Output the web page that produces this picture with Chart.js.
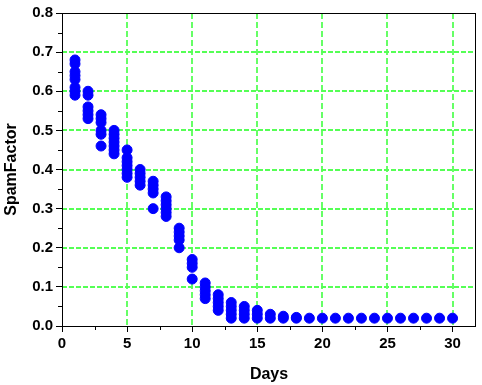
<!DOCTYPE html>
<html>
<head>
<meta charset="utf-8">
<script src="https://cdn.jsdelivr.net/npm/chart.js@4"></script>
<style>
  html, body { margin: 0; padding: 0; background: #fff; }
  #wrap { width: 482px; height: 385px; }
</style>
</head>
<body>
<div id="wrap"><canvas id="c" width="482" height="385"></canvas></div>
<script>
// SpamFactor po dnevih — več meritev na dan

const days = [1, 2, 3, 4, 5, 6, 7, 8, 9, 10, 11, 12, 13, 14, 15,
  16, 17, 18, 19, 20, 21, 22, 23, 24, 25, 26, 27, 28, 29, 30];

const spamFactor = [
  [0.68, 0.67, 0.65, 0.64, 0.63, 0.61, 0.60, 0.59],
  [0.60, 0.59, 0.56, 0.55, 0.54, 0.53],
  [0.54, 0.53, 0.52, 0.50, 0.49, 0.46],
  [0.50, 0.49, 0.48, 0.47, 0.46, 0.45, 0.44],
  [0.45, 0.43, 0.42, 0.41, 0.40, 0.39, 0.38],
  [0.40, 0.39, 0.38, 0.37, 0.36],
  [0.37, 0.36, 0.35, 0.34, 0.30],
  [0.33, 0.32, 0.31, 0.30, 0.29, 0.28],
  [0.25, 0.24, 0.23, 0.22, 0.20],
  [0.17, 0.16, 0.15, 0.12],
  [0.11, 0.10, 0.09, 0.08, 0.07],
  [0.08, 0.07, 0.06, 0.05, 0.04],
  [0.06, 0.05, 0.04, 0.03, 0.02],
  [0.05, 0.04, 0.03, 0.02],
  [0.04, 0.03, 0.02],
  [0.03, 0.02],
  [0.025, 0.02],
  [0.022, 0.02],
  [0.02], [0.02], [0.02], [0.02], [0.02], [0.02],
  [0.02], [0.02], [0.02], [0.02], [0.02], [0.02],
];

const xTicks = [0, 5, 10, 15, 20, 25, 30];
const yTicks = [0, 0.1, 0.2, 0.3, 0.4, 0.5, 0.6, 0.7, 0.8];
const xMinor = [2.5, 7.5, 12.5, 17.5, 22.5, 27.5];
const yMinor = [0.05, 0.15, 0.25, 0.35, 0.45, 0.55, 0.65, 0.75];
const xGrid = [5, 10, 15, 20, 25, 30];
const yGrid = [0.1, 0.2, 0.3, 0.4, 0.5, 0.6, 0.7];

const points = [];
days.forEach((d, i) => {
  spamFactor[i].forEach((v) => points.push({ x: d, y: v }));
});

const FONT = '"Liberation Sans", Arial, sans-serif';

// zelena črtkana mreža pod točkami
const greenGridPlugin = {
  id: 'greenGrid',
  beforeDatasetsDraw(chart) {
    const { ctx, chartArea, scales } = chart;
    const { left, right, top, bottom } = chartArea;
    ctx.save();
    // navpične
    ctx.strokeStyle = '#66ff66';
    ctx.lineWidth = 2;
    ctx.setLineDash([6, 3]);
    ctx.beginPath();
    for (const v of xGrid) {
      const x = Math.round(scales.x.getPixelForValue(v));
      ctx.moveTo(x, top);
      ctx.lineTo(x, bottom);
    }
    ctx.stroke();
    // vodoravne
    ctx.strokeStyle = '#55ff55';
    ctx.lineWidth = 2;
    ctx.setLineDash([5, 2]);
    ctx.beginPath();
    for (const v of yGrid) {
      const y = Math.round(scales.y.getPixelForValue(v));
      ctx.moveTo(left, y);
      ctx.lineTo(right, y);
    }
    ctx.stroke();
    ctx.restore();
  },
};

// okvir in pomožne oznake
const frameAndMinorPlugin = {
  id: 'frameAndMinor',
  afterDraw(chart) {
    const { ctx, chartArea, scales } = chart;
    const { left, right, top, bottom } = chartArea;
    ctx.save();
    ctx.strokeStyle = '#000';
    ctx.lineWidth = 1;
    ctx.setLineDash([]);
    ctx.strokeRect(Math.round(left) + 0.5, Math.round(top) + 0.5,
      Math.round(right - left) - 1, Math.round(bottom - top));

    ctx.beginPath();
    for (const v of xMinor) {
      const x = Math.round(scales.x.getPixelForValue(v)) + 0.5;
      ctx.moveTo(x, bottom);
      ctx.lineTo(x, bottom + 4);
    }
    for (const v of yMinor) {
      const y = Math.round(scales.y.getPixelForValue(v)) + 0.5;
      ctx.moveTo(left, y);
      ctx.lineTo(left - 4, y);
    }
    ctx.stroke();
    ctx.restore();
  },
};

new Chart(document.getElementById('c').getContext('2d'), {
  type: 'scatter',
  plugins: [greenGridPlugin, frameAndMinorPlugin],
  data: {
    datasets: [{
      data: points,
      backgroundColor: '#0000ff',
      borderColor: '#0000ff',
      borderWidth: 1,
      pointRadius: 5,
    }],
  },
  options: {
    responsive: false,
    animation: false,
    layout: { padding: { top: 13, right: 0, left: 0, bottom: 0 } },
    plugins: { legend: { display: false }, tooltip: { enabled: false } },
    scales: {
      x: {
        type: 'linear',
        min: 0,
        max: 31.8,
        afterBuildTicks: (s) => { s.ticks = xTicks.map((v) => ({ value: v })); },
        afterFit: (s) => { s.height = 59; },
        border: { display: false },
        grid: { drawOnChartArea: false, tickColor: '#000', tickLength: 6 },
        ticks: {
          color: '#000',
          padding: 3,
          autoSkip: false,
          font: { family: FONT, size: 15, weight: 'bold' },
          maxRotation: 0,
        },
        title: {
          display: true,
          text: 'Days',
          color: '#000',
          font: { family: FONT, size: 16, weight: 'bold' },
          padding: { top: 0, bottom: 1 },
        },
      },
      y: {
        type: 'linear',
        min: 0,
        max: 0.8,
        afterBuildTicks: (s) => { s.ticks = yTicks.map((v) => ({ value: v })); },
        afterFit: (s) => { s.width = 62; },
        border: { display: false },
        grid: { drawOnChartArea: false, tickColor: '#000', tickLength: 6 },
        ticks: {
          color: '#000',
          padding: 3,
          autoSkip: false,
          font: { family: FONT, size: 15, weight: 'bold' },
          callback: (v) => Number(v).toFixed(1),
        },
        title: {
          display: true,
          text: 'SpamFactor',
          color: '#000',
          font: { family: FONT, size: 16, weight: 'bold' },
          padding: { top: 2, bottom: 0 },
        },
      },
    },
  },
});
</script>
</body>
</html>
